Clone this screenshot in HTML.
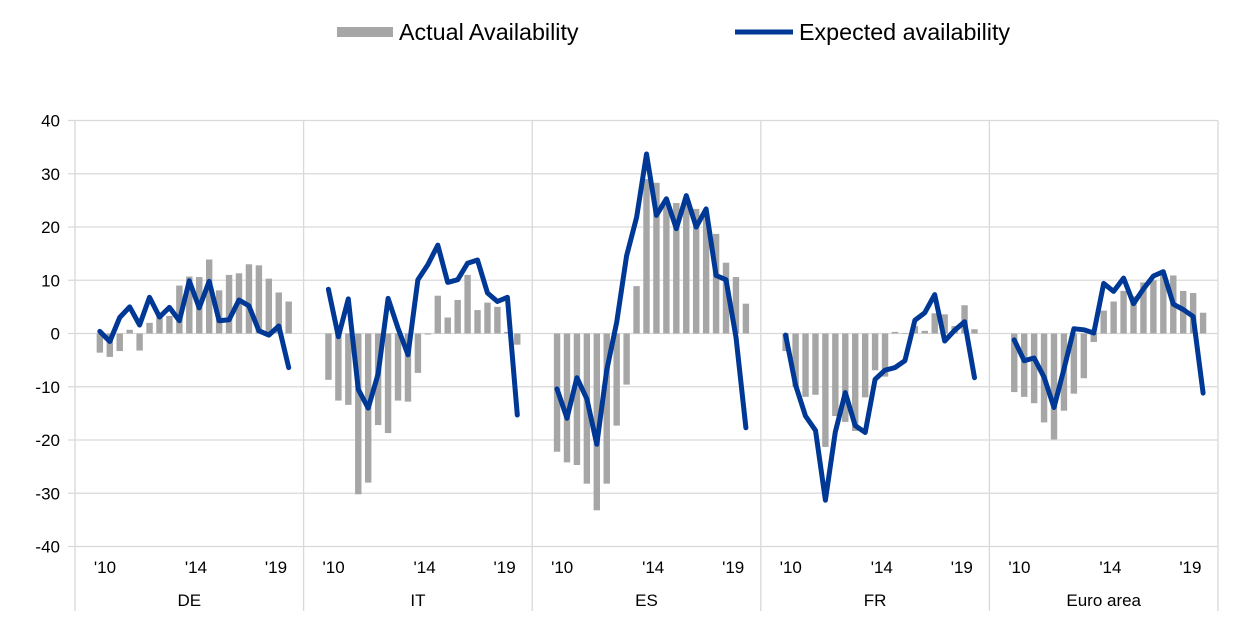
<!DOCTYPE html>
<html><head><meta charset="utf-8"><style>
body{margin:0;background:#fff;}
svg text{font-family:"Liberation Sans",Arial,sans-serif;fill:#000;}
</style></head><body>
<svg id="chart" width="1240" height="617" xmlns="http://www.w3.org/2000/svg">
<g>
<rect x="337" y="27" width="56" height="10" fill="#a6a6a6"/>
<text x="399" y="40" font-size="23.3">Actual Availability</text>
<line x1="735" y1="32" x2="793" y2="32" stroke="#003896" stroke-width="5"/>
<text x="799" y="40" font-size="23.3">Expected availability</text>
</g>
<g id="grid"></g>
<g id="bars"></g>
<g id="lines"></g>
<g id="axes"></g>
</svg>
<script>
const panels = ["DE","IT","ES","FR","Euro area"];
const yTicks = [40,30,20,10,0,-10,-20,-30,-40];
const yearLabels = ["'10","'14","'19"];
const actualDE = [-3.6,-4.4,-3.3,0.7,-3.2,2,3.3,3.3,9,10.7,10.6,13.9,8.1,11,11.3,13,12.8,10.3,7.7,6];
const actualIT = [-8.7,-12.6,-13.4,-30.2,-28,-17.2,-18.7,-12.6,-12.8,-7.4,-0.2,7.1,3,6.3,11,4.4,5.8,5,0.3,-2.1];
const actualES = [-22.2,-24.2,-24.7,-28.2,-33.2,-28.2,-17.3,-9.6,8.9,29,28.3,24,24.5,24.3,23.4,22,18.7,13.3,10.6,5.6];
const actualFR = [-3.3,-10,-11.9,-11.5,-21.3,-15.5,-16.6,-18.3,-12,-6.9,-8.1,0.3,0,1.4,0.5,3.8,3.6,1.4,5.3,0.8];
const actualEA = [-11,-11.9,-13.1,-16.7,-19.9,-14.5,-11.3,-8.4,-1.6,4.3,6,8,7,9.6,10,11,10.9,8,7.6,3.9];
const expectedDE = [0.4,-1.5,3,5,1.6,6.8,3.1,4.9,2.4,9.9,4.8,9.8,2.4,2.6,6.3,5.2,0.5,-0.3,1.4,-6.4];
const expectedIT = [8.3,-0.6,6.5,-10.5,-14,-7.6,6.6,1,-4,10.1,12.9,16.6,9.6,10.1,13.2,13.8,7.6,6,6.8,-15.3];
const expectedES = [-10.4,-15.9,-8.3,-12.3,-20.8,-6.9,2.1,14.6,21.8,33.7,22.2,25.3,19.7,25.9,20,23.4,10.9,10.1,-0.7,-17.7];
const expectedFR = [-0.3,-9.7,-15.5,-18.2,-31.3,-18.5,-11.1,-17.3,-18.6,-8.6,-6.9,-6.4,-5.1,2.5,3.9,7.3,-1.4,0.6,2.2,-8.3];
const expectedEA = [-1.2,-5.1,-4.6,-8.2,-13.9,-6.7,0.9,0.7,0.1,9.4,7.9,10.4,5.6,8.4,10.8,11.6,5.5,4.5,3.2,-11.2];
const actual = [actualDE,actualIT,actualES,actualFR,actualEA];
const expected = [expectedDE,expectedIT,expectedES,expectedFR,expectedEA];

const NS="http://www.w3.org/2000/svg";
const L=75,R=1218,T=120.5,B=546.5;
const PW=(R-L)/5, SLOT=PW/23;
function y(v){return T+(40-v)/80*(B-T);}
function x(p,i){return L+p*PW+(i+2.5)*SLOT;}
function mk(tag,attrs,parent){const e=document.createElementNS(NS,tag);for(const k in attrs)e.setAttribute(k,attrs[k]);parent.appendChild(e);return e;}
const grid=document.getElementById('grid'),bars=document.getElementById('bars'),lines=document.getElementById('lines'),axes=document.getElementById('axes');
yTicks.forEach(t=>{
  const g=mk('line',{x1:68,x2:R,y1:y(t),y2:y(t),stroke:'#d9d9d9','stroke-width':1.3},grid);
  
  
  const tx=mk('text',{x:60,y:y(t)+6,'font-size':17,'text-anchor':'end'},axes);
  tx.textContent=t;
  
  
});
for(let p=0;p<=5;p++){
  const v=mk('line',{x1:L+p*PW,x2:L+p*PW,y1:T,y2:611,stroke:'#d9d9d9','stroke-width':1.3},axes);
  
  
}
const labOff=[30,121,201];
panels.forEach((name,p)=>{
  actual[p].forEach((v,i)=>{
    const y0=y(0),y1=y(v);
    const r=mk('rect',{x:x(p,i)-3.2,width:6.4,y:Math.min(y0,y1),height:Math.max(Math.abs(y1-y0),0.5),fill:'#a6a6a6'},bars);
    
    
  });
  const pts=expected[p].map((v,i)=>x(p,i).toFixed(1)+','+y(v).toFixed(1)).join(' ');
  const pl=mk('polyline',{points:pts,fill:'none',stroke:'#003896','stroke-width':5,'stroke-linejoin':'round','stroke-linecap':'round'},lines);
  
  
  yearLabels.forEach((lab,k)=>{
    const t=mk('text',{x:L+p*PW+labOff[k],y:573,'font-size':17,'text-anchor':'middle'},axes);
    t.textContent=lab;
    
    
  });
  const pn=mk('text',{x:L+p*PW+PW/2,y:606,'font-size':17,'text-anchor':'middle'},axes);
  pn.textContent=name;
  
  
});
</script>
</body></html>
